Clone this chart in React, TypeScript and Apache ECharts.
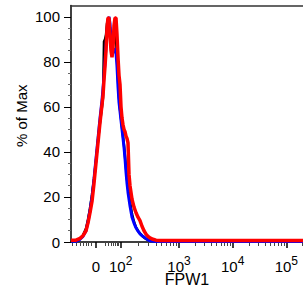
import React, { useEffect, useRef } from "react";
import * as echarts from "echarts";

// x positions are display channels of the biexponential FPW1 scale
const channels = [0, 5, 9, 12, 15, 17, 19, 21, 23, 25, 27, 29, 31, 32, 33, 34, 35, 36, 37, 38, 39, 40, 41, 42, 43, 44, 45, 46, 47, 48, 49, 50, 51, 52, 53, 54, 55, 56, 57, 58, 59, 61, 63, 65, 67, 69, 71, 73, 75, 77, 79, 82, 85, 89, 109, 149, 189, 232];

const blackValues = [0.3, 0.4, 1.5, 3, 6, 10, 15, 21, 28, 36, 45, 53, 60, 64, 89, 90, 92, 97, 99, 98, 95, 90, 87, 88, 92, 94, 90, 82, 72, 64, 59, 55, 51, 47, 43, 38, 33, 28, 24, 21, 18, 12.5, 9, 6.5, 5, 3.8, 2.8, 2, 1.4, 1, 0.6, 0.4, 0.3, 0.3, 0.3, 0.3, 0.3, 0.3];

const blueValues = [0.3, 0.3, 1.2, 2.5, 5, 9, 14, 20, 28, 37, 46, 55, 63, 68, 74, 80, 87, 93, 98, 100, 97, 90, 86, 84, 85, 86, 84, 78, 69, 62, 58, 54, 50, 46, 42, 37, 31, 26, 22, 19, 16, 11, 8.4, 6.3, 4.8, 3.6, 2.8, 2.2, 1.5, 0.9, 0.5, 0.3, 0.2, 0.2, 0.2, 0.2, 0.2, 0.2];

const redValues = [0.8, 0.8, 1.6, 2.8, 5, 8.5, 13, 18, 26, 35, 44, 53, 61, 65, 72, 78, 85, 95, 99.5, 99.5, 92, 85, 82, 86, 96, 99.5, 99.5, 92, 82, 74, 70, 60, 55, 52, 50, 49, 47, 46, 44, 30, 25, 19, 15.5, 13, 11, 9.5, 7, 5, 3.5, 2.5, 1.8, 1.2, 0.8, 0.7, 0.7, 0.7, 0.7, 0.7];

const yTicks = [0, 20, 40, 60, 80, 100];
const yMinorTicks = [5, 10, 15, 25, 30, 35, 45, 50, 55, 65, 70, 75, 85, 90, 95];

const xTickLabels = ["0", "10|2", "10|3", "10|4", "10|5"];
const xTickChannels = [25, 49.7, 108, 161.7, 215.3];
const xNegMinorChannels = [1, 5, 9, 12, 15, 17, 20];
const xLowMinorChannels = [34.5, 37.5, 40, 42, 44, 46, 47.5];

const X_MAX = 232;
const Y_MAX = 105;

function decadeMinor(): number[] {
  const out: number[] = [];
  for (let d = 1; d < xTickChannels.length; d++) {
    const a = xTickChannels[d];
    const b = d + 1 < xTickChannels.length ? xTickChannels[d + 1] : a + (a - xTickChannels[d - 1]);
    for (let k = 2; k <= 9; k++) {
      const p = a + (b - a) * Math.log10(k);
      if (p <= X_MAX) out.push(p);
    }
  }
  return out;
}

const FONT = "Liberation Sans, Arial, sans-serif";

export default function App() {
  const ref = useRef<HTMLDivElement>(null);
  useEffect(() => {
    if (!ref.current) return;
    const chart = echarts.init(ref.current, undefined, { renderer: "svg" });
    const xMinor = [...xNegMinorChannels, ...xLowMinorChannels, ...decadeMinor()];
    const mk = (vals: number[]) => channels.map((c, i) => [c, vals[i]]);
    chart.setOption({
      animation: false,
      backgroundColor: "#fff",
      grid: { left: 71, right: 0, top: 5.5, bottom: 49, containLabel: false, outerBoundsMode: "none" },
      xAxis: [
        {
          type: "value",
          min: 0,
          max: X_MAX,
          position: "bottom",
          axisLine: { show: true, onZero: false, lineStyle: { color: "#000", width: 1.5 } },
          axisTick: { show: true, customValues: xTickChannels, length: 6, lineStyle: { color: "#000", width: 1.5 } },
          axisLabel: {
            show: true,
            customValues: xTickChannels,
            margin: 12.5,
            color: "#000",
            fontFamily: FONT,
            fontSize: 15,
            lineHeight: 19.5,
            formatter: (v: number) => {
              let idx = 0;
              let best = Infinity;
              xTickChannels.forEach((c, i) => {
                if (Math.abs(c - v) < best) { best = Math.abs(c - v); idx = i; }
              });
              const t = xTickLabels[idx];
              if (t.indexOf("|") < 0) return "{b|" + t + "}";
              const [base, sup] = t.split("|");
              return "{b|" + base + "}{s|" + sup + "}";
            },
            rich: {
              b: { fontSize: 15, lineHeight: 19.5, verticalAlign: "bottom", fontFamily: FONT, color: "#000" },
              s: { fontSize: 12, lineHeight: 12, verticalAlign: "top", fontFamily: FONT, color: "#000" },
            },
          },
          splitLine: { show: false },
          name: "FPW1",
          nameLocation: "middle",
          nameGap: 32,
          nameMoveOverlap: false,
          nameTextStyle: { color: "#000", fontFamily: FONT, fontSize: 16, verticalAlign: "top", lineHeight: 10 },
        },
        {
          type: "value",
          min: 0,
          max: X_MAX,
          position: "bottom",
          axisLine: { show: false, onZero: false },
          axisTick: { show: true, customValues: xMinor, length: 4, lineStyle: { color: "#444", width: 1 } },
          axisLabel: { show: false },
          splitLine: { show: false },
        },
        {
          type: "value",
          min: 0,
          max: X_MAX,
          position: "top",
          axisLine: { show: true, onZero: false, lineStyle: { color: "#333", width: 1.5 } },
          axisTick: { show: false },
          axisLabel: { show: false },
          splitLine: { show: false },
        },
      ],
      yAxis: [
        {
          type: "value",
          min: 0,
          max: Y_MAX,
          position: "left",
          axisLine: { show: true, onZero: false, lineStyle: { color: "#000", width: 1.5 } },
          axisTick: { show: true, customValues: yTicks, length: 7, lineStyle: { color: "#000", width: 1 } },
          axisLabel: {
            show: true,
            customValues: yTicks,
            margin: 11,
            color: "#000",
            fontFamily: FONT,
            fontSize: 15,
          },
          splitLine: { show: false },
          name: "% of Max",
          nameLocation: "middle",
          nameGap: 42,
          nameMoveOverlap: false,
          nameTextStyle: { color: "#000", fontFamily: FONT, fontSize: 15, padding: [0, 0, 0, 16] },
        },
        {
          type: "value",
          min: 0,
          max: Y_MAX,
          position: "left",
          axisLine: { show: false, onZero: false },
          axisTick: { show: true, customValues: yMinorTicks, length: 3, lineStyle: { color: "#666", width: 1 } },
          axisLabel: { show: false },
          splitLine: { show: false },
        },
      ],
      series: [
        {
          type: "line",
          name: "black",
          data: mk(blackValues),
          showSymbol: false,
          xAxisIndex: 0,
          yAxisIndex: 0,
          lineStyle: { color: "#000", width: 2.5 },
          z: 2,
        },
        {
          type: "line",
          name: "blue",
          data: mk(blueValues),
          showSymbol: false,
          xAxisIndex: 0,
          yAxisIndex: 0,
          lineStyle: { color: "#0000ff", width: 3 },
          z: 3,
        },
        {
          type: "line",
          name: "red",
          data: mk(redValues),
          showSymbol: false,
          xAxisIndex: 0,
          yAxisIndex: 0,
          lineStyle: { color: "#ff0000", width: 3.5 },
          z: 4,
        },
      ],
    });
    return () => chart.dispose();
  }, []);
  return (
    <div
      ref={ref}
      style={{ position: "absolute", left: 0, top: 0, width: 303, height: 291 }}
    />
  );
}
